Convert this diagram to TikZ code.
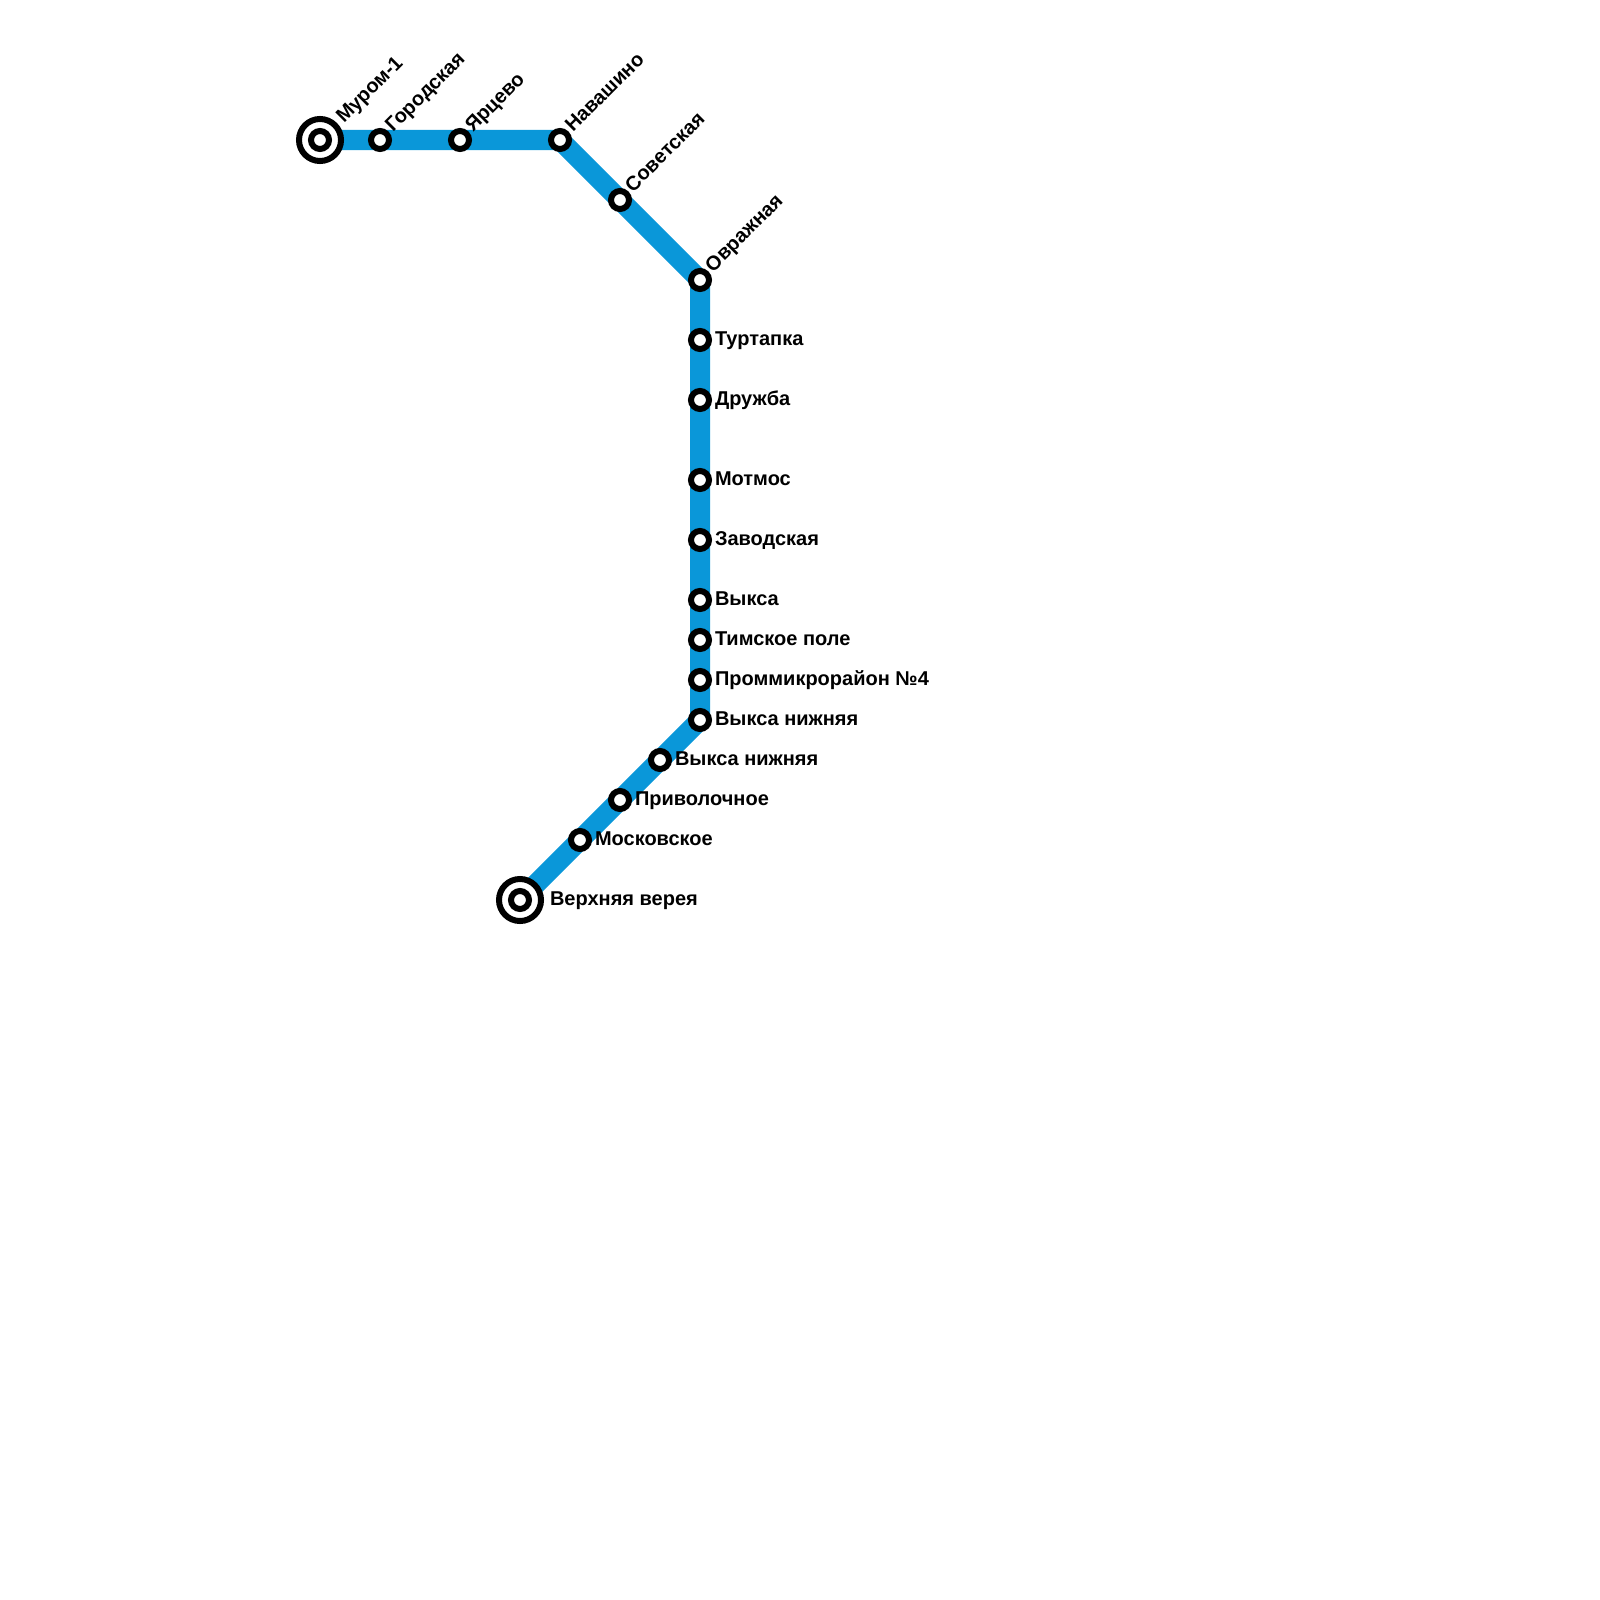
\documentclass[tikz,border=0pt]{standalone}
\usepackage{fontspec}
\setmainfont{Liberation Sans}
\usetikzlibrary{backgrounds}
\definecolor{linecolor}{HTML}{0A97D9}
\tikzset{
  station/.style={circle,draw=black,fill=white,line width=0.06cm,inner sep=0pt,outer sep=0pt,minimum size=0.18cm},
  terminalring/.style={circle,draw=black,fill=white,line width=0.06cm,inner sep=0pt,outer sep=0pt,minimum size=0.42cm},
  stationlabel/.style={inner sep=0pt,outer sep=0pt,anchor=base west,font=\fontsize{5.69pt}{6.5pt}\selectfont\bfseries},
  tiltlabel/.style={stationlabel,rotate=45},
  metroline/.style={draw=linecolor,line width=0.2cm}
}
\begin{document}
\begin{tikzpicture}[x=0.01cm,y=-0.01cm]
    \useasboundingbox (0,0) rectangle (1600,1600);

    % Terminals
    \node[terminalring] (muromring) at (320,140) {};
    \node[station] (murom) at (320,140) {};
    \node[terminalring] (vereyaring) at (520,900) {};
    \node[station] (vereya) at (520,900) {};
    \foreach \x/\y/\n in {380/140/gorodskaya,460/140/yartsevo,560/140/navashino,620/200/sovetskaya,
        700/280/ovrazhnaya,700/340/turtapka,700/400/druzhba,700/480/motmos,700/540/zavodskaya,
        700/600/vyksa,700/640/timskoe,700/680/prommikro,700/720/vyksanizh,660/760/vyksanizhb,
        620/800/privolochnoe,580/840/moskovskoe} {
        \node[station] (\n) at (\x,\y) {};
      }

    % Labels turned upwards
    \node[tiltlabel] (lmurom) at (344,124) {Муром-1};
    \foreach \x/\y/\n/\t in {393/133/gorodskaya/Городская,473/133/yartsevo/Ярцево,573/133/navashino/Навашино,
        633/193/sovetskaya/Советская,713/273/ovrazhnaya/Овражная} {
        \node[tiltlabel] (l\n) at (\x,\y) {\t};
      }
    % Labels to the right
    \foreach \x/\y/\n/\t in {715/345/turtapka/Туртапка,715/405/druzhba/Дружба,715/485/motmos/Мотмос,
        715/545/zavodskaya/Заводская,715/605/vyksa/Выкса,715/645/timskoe/Тимское поле,
        715/685/prommikro/Проммикрорайон №4,715/725/vyksanizh/Выкса нижняя,675/765/vyksanizhb/Выкса нижняя,
        635/805/privolochnoe/Приволочное,595/845/moskovskoe/Московское,550/905/vereya/Верхняя верея} {
        \node[stationlabel] (l\n) at (\x,\y) {\t};
      }

    \begin{scope}[on background layer]
      \draw[metroline] (murom.center) -- (navashino.center) -- (ovrazhnaya.center) -- (vyksanizh.center) -- (vereya.center);
    \end{scope}
  \end{tikzpicture}
\end{document}
